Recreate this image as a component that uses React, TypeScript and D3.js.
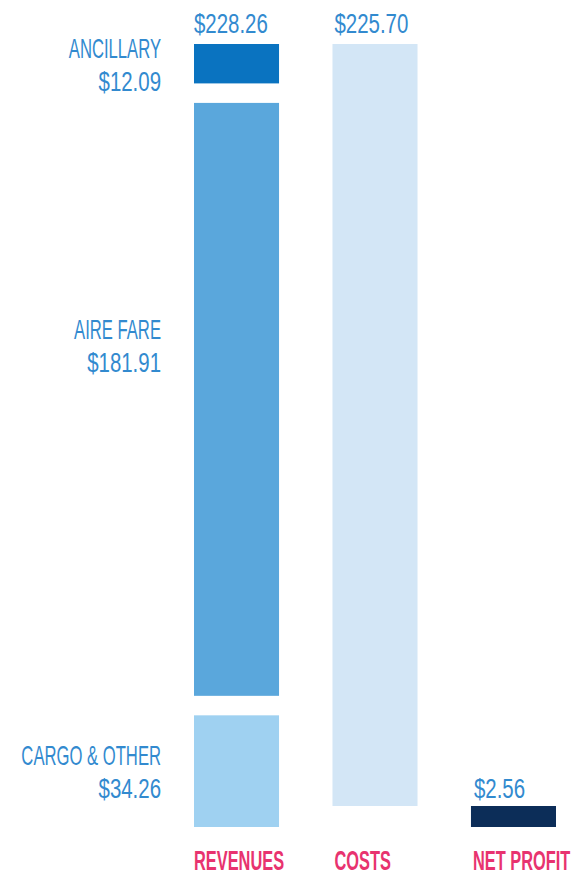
import React from "react";
import * as d3 from "d3";

// ---- data ----
const revenueNames = ["CARGO & OTHER", "AIRE FARE", "ANCILLARY"]; // bottom -> top
const revenueValues = [34.26, 181.91, 12.09];
const revenueColors = ["#9fd1f1", "#5aa7dc", "#0a73c0"];
const columns = ["REVENUES", "COSTS", "NET PROFIT"];
const costsValue = 225.7;
const netProfitValue = 2.56;

// ---- layout / style ----
const W = 578;
const H = 875;
const TOP = 44;
const BASE = 827;
const GAP = 19.5;
const MIN_BAR = 21;
const FONT = "'Liberation Sans', Arial, sans-serif";
const FS = 28;
const LETTER_SX = 0.595;
const DIGIT_SX = 0.73;
const BOLD_SX = 0.585;
const TEXT_BLUE = "#328acf";
const PINK = "#e8336f";
const LABEL_MAX_OFFSET = 242; // label sits at segment centre, but no lower than this below its top

const fmt = (v: number) => "$" + d3.format(".2f")(v);

function SText({ x, y, sx, anchor = "start", fill, weight = 400, children }: any) {
  return (
    <g transform={`translate(${x},${y}) scale(${sx},1)`}>
      <text
        x={0}
        y={0}
        textAnchor={anchor}
        fill={fill}
        fontFamily={FONT}
        fontSize={FS}
        fontWeight={weight}
      >
        {children}
      </text>
    </g>
  );
}

export default function App() {
  const revTotal = d3.sum(revenueValues);
  const barPixels = BASE - TOP - GAP * (revenueValues.length - 1);
  const h = d3.scaleLinear().domain([0, revTotal]).range([0, barPixels]);

  const x = d3
    .scaleBand<string>()
    .domain(columns)
    .range([194, 556])
    .paddingInner(0.386)
    .paddingOuter(0);
  const bw = x.bandwidth();

  // stacked revenue with gaps
  let cursor = BASE;
  const segs = revenueValues.map((v, i) => {
    const bottom = cursor;
    const top = bottom - h(v);
    cursor = top - GAP;
    return { name: revenueNames[i], value: v, top, bottom, color: revenueColors[i] };
  });
  const revTop = segs[segs.length - 1].top;

  const profitH = Math.max(h(netProfitValue), MIN_BAR);
  const profitTop = BASE - profitH;
  const costsTop = revTop; // revenue = costs + profit
  const costsBottom = profitTop;

  const xr = x("REVENUES")!;
  const xc = x("COSTS")!;
  const xp = x("NET PROFIT")!;
  const labelRight = xr - 33;

  return (
    <div style={{ position: "absolute", left: 0, top: 0 }}>
      <svg width={W} height={H} style={{ display: "block", background: "#fff" }}>
        {segs.map((s) => (
          <rect key={s.name} x={xr} y={s.top} width={bw} height={s.bottom - s.top} fill={s.color} />
        ))}
        <rect x={xc} y={costsTop} width={bw} height={costsBottom - costsTop} fill="#d3e6f6" />
        <rect x={xp} y={profitTop} width={bw} height={profitH} fill="#0c2d58" />

        {segs.map((s) => {
          const a = s.top + Math.min((s.bottom - s.top) / 2, LABEL_MAX_OFFSET);
          return (
            <g key={"l" + s.name}>
              <SText x={labelRight} y={a - 6} sx={LETTER_SX} anchor="end" fill={TEXT_BLUE}>
                {s.name}
              </SText>
              <SText x={labelRight} y={a + 27} sx={DIGIT_SX} anchor="end" fill={TEXT_BLUE}>
                {fmt(s.value)}
              </SText>
            </g>
          );
        })}

        <SText x={xr} y={revTop - 11} sx={DIGIT_SX} fill={TEXT_BLUE}>
          {fmt(revTotal)}
        </SText>
        <SText x={xc + 2} y={costsTop - 11} sx={DIGIT_SX} fill={TEXT_BLUE}>
          {fmt(costsValue)}
        </SText>
        <SText x={xp + 3} y={profitTop - 8} sx={DIGIT_SX} fill={TEXT_BLUE}>
          {fmt(netProfitValue)}
        </SText>

        {columns.map((c, i) => (
          <SText key={c} x={x(c)! + (i === 0 ? 0 : 2)} y={870} sx={BOLD_SX} fill={PINK} weight={700}>
            {c}
          </SText>
        ))}
      </svg>
    </div>
  );
}
